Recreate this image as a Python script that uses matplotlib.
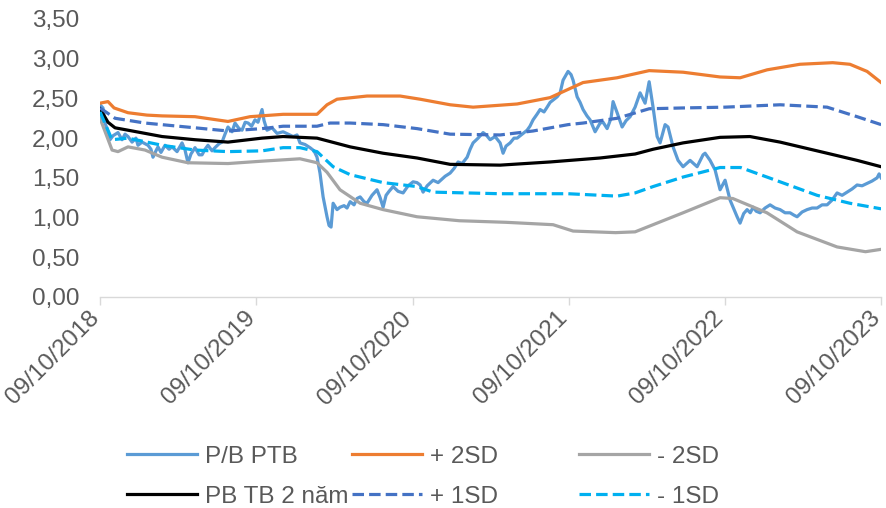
import datetime as dt
import numpy as np
import matplotlib
matplotlib.use('Agg')
import matplotlib.pyplot as plt
import matplotlib.dates as mdates
import matplotlib.transforms as mtransforms
from matplotlib.ticker import FuncFormatter

plt.rcParams['font.family'] = ['Liberation Sans', 'DejaVu Sans']

start = dt.datetime(2018, 10, 9)

# years since 09/10/2018, value
pb_t = [0.000, 0.019, 0.032, 0.051, 0.064, 0.083, 0.115, 0.141, 0.160, 0.179, 0.205, 0.230, 0.243, 0.269,
        0.307, 0.326, 0.339, 0.358, 0.371, 0.390, 0.416, 0.442, 0.461, 0.493, 0.525, 0.544, 0.563, 0.582,
        0.608, 0.634, 0.653, 0.672, 0.691, 0.717, 0.736, 0.762, 0.781, 0.800, 0.819, 0.845, 0.864, 0.890,
        0.909, 0.929, 0.948, 0.970, 0.992, 1.011, 1.037, 1.050, 1.069, 1.101, 1.133, 1.172, 1.204, 1.236,
        1.261, 1.280, 1.312, 1.344, 1.370, 1.389, 1.408, 1.428, 1.453, 1.466, 1.479, 1.492, 1.517, 1.536,
        1.562, 1.581, 1.601, 1.626, 1.645, 1.665, 1.690, 1.709, 1.741, 1.773, 1.793, 1.812, 1.831, 1.850,
        1.876, 1.908, 1.940, 1.972, 2.004, 2.029, 2.049, 2.068, 2.094, 2.132, 2.164, 2.209, 2.241, 2.267,
        2.292, 2.318, 2.350, 2.369, 2.388, 2.420, 2.452, 2.472, 2.497, 2.529, 2.561, 2.580, 2.599, 2.625,
        2.650, 2.670, 2.702, 2.734, 2.752, 2.772, 2.797, 2.817, 2.842, 2.862, 2.881, 2.900, 2.926, 2.945,
        2.964, 2.996, 3.015, 3.028, 3.054, 3.073, 3.092, 3.117, 3.137, 3.169, 3.201, 3.220, 3.246, 3.271,
        3.284, 3.310, 3.342, 3.367, 3.393, 3.425, 3.457, 3.489, 3.515, 3.540, 3.566, 3.585, 3.617, 3.636,
        3.668, 3.700, 3.732, 3.777, 3.822, 3.860, 3.873, 3.905, 3.937, 3.969, 4.001, 4.033, 4.078, 4.097,
        4.120, 4.142, 4.162, 4.181, 4.200, 4.225, 4.257, 4.289, 4.321, 4.353, 4.385, 4.417, 4.442, 4.462,
        4.494, 4.526, 4.558, 4.590, 4.622, 4.654, 4.686, 4.718, 4.750, 4.782, 4.814, 4.846, 4.878, 4.910,
        4.942, 4.974, 4.987, 5.000]
pb_v = [2.42, 2.38, 2.19, 2.08, 1.98, 2.03, 2.07, 1.98, 2.05, 2.02, 1.95, 2.00, 1.91, 1.95,
        1.91, 1.86, 1.76, 1.84, 1.89, 1.82, 1.91, 1.86, 1.89, 1.83, 1.94, 1.85, 1.69, 1.80,
        1.88, 1.79, 1.79, 1.86, 1.91, 1.84, 1.88, 1.93, 1.95, 2.05, 2.14, 2.08, 2.19, 2.12,
        2.10, 2.20, 2.19, 2.15, 2.23, 2.20, 2.36, 2.22, 2.10, 2.13, 2.06, 2.08, 2.05, 2.02,
        2.04, 1.94, 1.92, 1.88, 1.84, 1.76, 1.56, 1.26, 1.01, 0.90, 0.88, 1.18, 1.10, 1.13,
        1.15, 1.12, 1.20, 1.16, 1.24, 1.26, 1.20, 1.18, 1.28, 1.35, 1.25, 1.13, 1.28, 1.33,
        1.39, 1.33, 1.31, 1.40, 1.45, 1.44, 1.41, 1.32, 1.40, 1.47, 1.44, 1.52, 1.56, 1.62,
        1.70, 1.68, 1.76, 1.86, 1.94, 2.00, 2.07, 2.04, 1.98, 2.02, 1.94, 1.81, 1.90, 1.94,
        2.00, 2.00, 2.05, 2.10, 2.15, 2.23, 2.30, 2.36, 2.33, 2.39, 2.45, 2.48, 2.52, 2.57,
        2.73, 2.84, 2.80, 2.73, 2.52, 2.45, 2.36, 2.28, 2.23, 2.08, 2.19, 2.20, 2.12, 2.25,
        2.46, 2.32, 2.14, 2.22, 2.27, 2.39, 2.57, 2.44, 2.71, 2.39, 2.02, 1.94, 2.17, 2.14,
        1.89, 1.72, 1.64, 1.72, 1.64, 1.79, 1.81, 1.72, 1.60, 1.35, 1.47, 1.22, 1.01, 0.93,
        1.05, 1.10, 1.06, 1.13, 1.08, 1.06, 1.12, 1.16, 1.12, 1.10, 1.06, 1.06, 1.03, 1.01,
        1.07, 1.10, 1.12, 1.12, 1.16, 1.16, 1.22, 1.31, 1.28, 1.32, 1.36, 1.41, 1.40, 1.43,
        1.46, 1.50, 1.55, 1.50]

p2_t = [0.000, 0.051, 0.090, 0.179, 0.300, 0.397, 0.608, 0.819, 0.960, 1.172, 1.389, 1.453, 1.517, 1.709,
        1.921, 2.049, 2.241, 2.388, 2.670, 2.881, 3.092, 3.310, 3.515, 3.732, 3.969, 4.097, 4.270, 4.480,
        4.690, 4.800, 4.910, 5.000]
p2_v = [2.44, 2.46, 2.38, 2.32, 2.29, 2.28, 2.27, 2.21, 2.27, 2.30, 2.30, 2.42, 2.49, 2.53,
        2.53, 2.49, 2.42, 2.39, 2.43, 2.51, 2.70, 2.76, 2.85, 2.83, 2.77, 2.76, 2.86, 2.93,
        2.95, 2.93, 2.84, 2.70]

m2_t = [0.000, 0.077, 0.115, 0.179, 0.288, 0.397, 0.563, 0.819, 1.037, 1.280, 1.389, 1.453, 1.536, 1.665,
        1.812, 2.029, 2.300, 2.600, 2.900, 3.028, 3.300, 3.425, 3.540, 3.732, 3.969, 4.050, 4.269, 4.462,
        4.718, 4.900, 5.000]
m2_v = [2.25, 1.85, 1.83, 1.89, 1.85, 1.76, 1.69, 1.68, 1.71, 1.74, 1.69, 1.57, 1.35, 1.18,
        1.10, 1.01, 0.96, 0.94, 0.91, 0.83, 0.81, 0.82, 0.91, 1.06, 1.25, 1.24, 1.06, 0.82,
        0.63, 0.57, 0.60]

avg_t = [0.000, 0.051, 0.096, 0.179, 0.397, 0.608, 0.819, 1.037, 1.172, 1.389, 1.601, 1.812, 2.029, 2.241,
         2.561, 2.881, 3.201, 3.425, 3.540, 3.732, 3.969, 4.160, 4.353, 4.654, 4.846, 5.000]
avg_v = [2.37, 2.20, 2.13, 2.10, 2.02, 1.98, 1.95, 2.00, 2.02, 2.00, 1.89, 1.81, 1.75, 1.67,
         1.66, 1.70, 1.75, 1.80, 1.86, 1.94, 2.01, 2.02, 1.95, 1.81, 1.72, 1.64]

p1_t = [0.000, 0.096, 0.288, 0.608, 0.819, 1.037, 1.172, 1.389, 1.472, 1.601, 1.812, 2.029, 2.241, 2.561,
        2.772, 2.996, 3.092, 3.310, 3.515, 3.732, 4.000, 4.353, 4.654, 4.846, 5.000]
p1_v = [2.38, 2.25, 2.19, 2.13, 2.09, 2.12, 2.15, 2.15, 2.19, 2.19, 2.17, 2.12, 2.05, 2.04,
        2.09, 2.17, 2.19, 2.25, 2.37, 2.38, 2.39, 2.42, 2.39, 2.27, 2.17]

m1_t = [0.000, 0.077, 0.179, 0.397, 0.608, 0.819, 1.037, 1.172, 1.280, 1.389, 1.492, 1.601, 1.812, 2.029,
        2.132, 2.561, 2.996, 3.310, 3.425, 3.540, 3.732, 3.969, 4.100, 4.269, 4.590, 4.800, 5.000]
m1_v = [2.33, 1.98, 2.00, 1.91, 1.85, 1.83, 1.84, 1.88, 1.88, 1.83, 1.64, 1.54, 1.44, 1.39,
        1.32, 1.30, 1.30, 1.27, 1.31, 1.39, 1.51, 1.63, 1.63, 1.51, 1.28, 1.18, 1.11]

tick_years = [2018, 2019, 2020, 2021, 2022, 2023]


def to_dates(ts):
    return [start + dt.timedelta(days=t * 365.25) for t in ts]


fig = plt.figure(figsize=(8.86, 5.08), dpi=100)
ax = fig.add_axes([0.1129, 0.4154, 0.8815, 0.5472])

lw = 2.3
ax.plot(to_dates(pb_t), pb_v, color='#5B9BD5', lw=lw, label='P/B PTB')
ax.plot(to_dates(p2_t), p2_v, color='#ED7D31', lw=lw, label='+ 2SD')
ax.plot(to_dates(m2_t), m2_v, color='#A5A5A5', lw=lw, label='- 2SD')
ax.plot(to_dates(avg_t), avg_v, color='#000000', lw=lw, label='PB TB 2 năm')
ax.plot(to_dates(p1_t), p1_v, color='#4472C4', lw=lw, ls=(0, (3.6, 1.6)), label='+ 1SD')
ax.plot(to_dates(m1_t), m1_v, color='#00B0F0', lw=lw, ls=(0, (3.6, 1.6)), label='- 1SD')

ax.set_ylim(0, 3.5)
ax.set_yticks(np.arange(0, 3.51, 0.5))
ax.yaxis.set_major_formatter(FuncFormatter(lambda v, p: ('%.2f' % v).replace('.', ',')))
ticks = [dt.datetime(y, 10, 9) for y in tick_years]
ax.set_xlim(ticks[0], ticks[-1])
ax.set_xticks(ticks)
ax.xaxis.set_major_formatter(mdates.DateFormatter('%d/%m/%Y'))

for s in ['top', 'right', 'left']:
    ax.spines[s].set_visible(False)
ax.spines['bottom'].set_color('#D9D9D9')
ax.spines['bottom'].set_linewidth(1.0)
ax.tick_params(axis='y', length=0, pad=15, labelsize=17.5, labelcolor='#595959')
ax.tick_params(axis='x', length=6, width=1.0, color='#D9D9D9', direction='out',
               labelsize=17.5, labelcolor='#595959', pad=7)
shift = mtransforms.ScaledTranslation(-0.045, 0, fig.dpi_scale_trans)
for lab in ax.get_xticklabels():
    lab.set_rotation(45)
    lab.set_ha('right')
    lab.set_va('center')
    lab.set_rotation_mode('anchor')
    lab.set_transform(lab.get_transform() + shift)

handles = ax.get_lines()
cols = [(0.1433, [0, 3]), (0.3973, [1, 4]), (0.6535, [2, 5])]
for x0, idx in cols:
    hs = [handles[i] for i in idx]
    leg = fig.legend(hs, [h.get_label() for h in hs], loc='upper left', bbox_to_anchor=(x0, 0.123),
                     frameon=False, fontsize=17.5, handlelength=2.9, handletextpad=0.3,
                     labelspacing=0.74, borderpad=0, borderaxespad=0)
    for t in leg.get_texts():
        t.set_color('#595959')

fig.savefig('out.png', dpi=100)
